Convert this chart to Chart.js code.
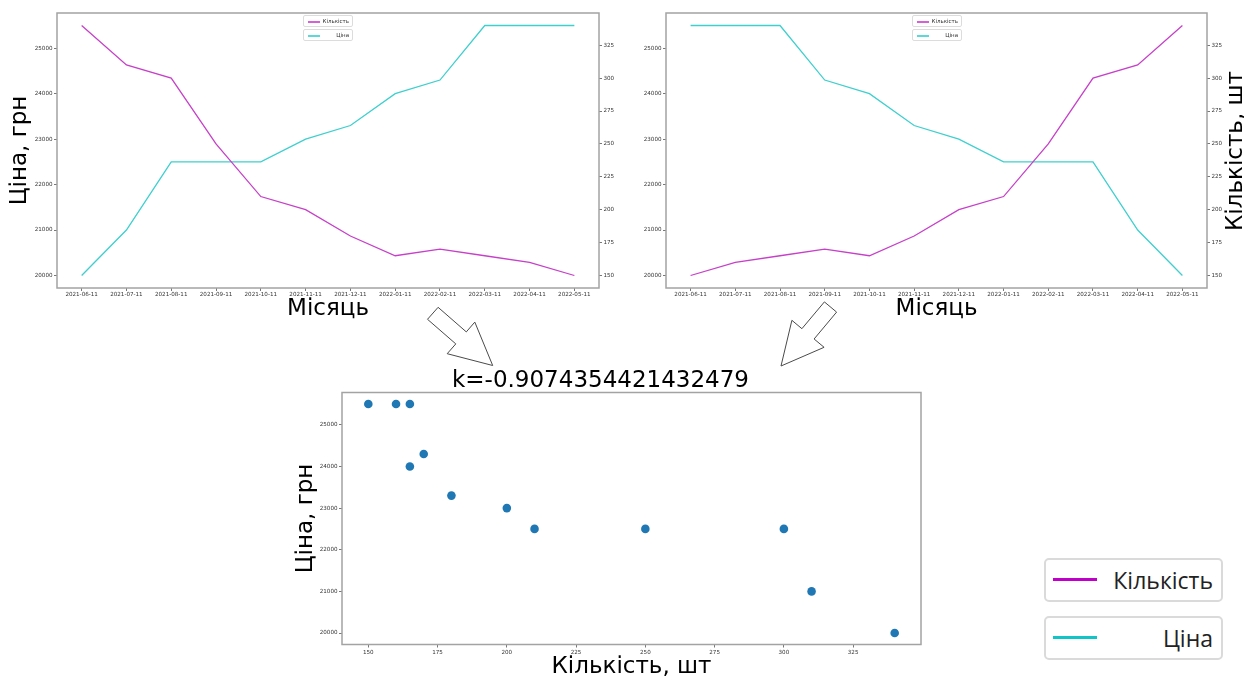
<!DOCTYPE html>
<html><head><meta charset="utf-8">
<script src="https://cdn.jsdelivr.net/npm/chart.js@4/dist/chart.umd.min.js"></script>
<style>
html,body{margin:0;padding:0;background:#fff;overflow:hidden;width:1244px;height:678px;position:relative;font-family:'DejaVu Sans',sans-serif;}
canvas{position:absolute;}
.sleg{position:absolute;background:#fff;border:1px solid #dcdcdc;border-radius:2px;box-sizing:border-box;width:50px;height:12px;}
.sleg div{position:absolute;left:4px;top:4.5px;width:12px;height:2px;}
.sleg span{position:absolute;right:3px;top:0;line-height:11px;font-size:5.5px;color:#333;}
.bleg{position:absolute;left:1044px;width:179px;height:44px;background:#fff;border:2px solid #dadada;border-radius:5px;box-sizing:border-box;}
.bleg div{position:absolute;left:7px;top:18px;width:44px;height:3px;}
.bleg span{position:absolute;right:8px;top:0;line-height:40px;font-size:23px;color:#222;font-family:'Open Sans',sans-serif;}
.mag{background-color:#d660d8;}
.cya{background-color:#5cd8d8;}
.bleg .mag{background-color:#c000c8;}
.bleg .cya{background-color:#10c4c8;}
.rtitle{position:absolute;left:1234px;top:150.5px;transform:translate(-50%,-50%) rotate(-90deg);font-size:23px;line-height:23px;white-space:nowrap;color:#000;}
svg{position:absolute;left:0;top:0;}
</style></head><body>
<canvas id="c1" width="640" height="330" style="left:0;top:0"></canvas>
<canvas id="c2" width="624" height="330" style="left:620px;top:0"></canvas>
<canvas id="c3" width="703" height="325" style="left:280px;top:360px"></canvas>
<div class="sleg" style="left:303px;top:15px"><div class="mag"></div><span>Кількість</span></div>
<div class="sleg" style="left:303px;top:29px"><div class="cya"></div><span>Ціна</span></div>
<div class="sleg" style="left:912px;top:15px"><div class="mag"></div><span>Кількість</span></div>
<div class="sleg" style="left:912px;top:29px"><div class="cya"></div><span>Ціна</span></div>
<div class="rtitle">Кількість, шт</div>
<div class="bleg" style="top:558px"><div class="mag"></div><span>Кількість</span></div>
<div class="bleg" style="top:616px"><div class="cya"></div><span>Ціна</span></div>
<svg id="arrows" width="1244" height="678"></svg>
<script>
const months = ['2021-06-11','2021-07-11','2021-08-11','2021-09-11','2021-10-11','2021-11-11','2021-12-11','2022-01-11','2022-02-11','2022-03-11','2022-04-11','2022-05-11'];
const price1 = [20000,21000,22500,22500,22500,23000,23300,24000,24300,25500,25500,25500];
const qty1   = [340,310,300,250,210,200,180,165,170,165,160,150];
const price2 = [25500,25500,25500,24300,24000,23300,23000,22500,22500,22500,21000,20000];
const qty2   = [150,160,165,170,165,180,200,210,250,300,310,340];
const priceTicks = [20000,21000,22000,23000,24000,25000];
const qtyTicks = [150,175,200,225,250,275,300,325];
const kTitle = 'k=-0.9074354421432479';

Chart.defaults.font.family = "'DejaVu Sans'";
Chart.defaults.color = '#333';
Chart.defaults.animation = false;
Chart.defaults.events = [];

const MAG = '#c640c8', CYA = '#3fcfcf';
const framePlugin = {id:'frame', afterDatasetsDraw(chart){
  const {ctx, chartArea:a} = chart; ctx.save();
  ctx.strokeStyle = '#a3a3a3'; ctx.lineWidth = 1.5;
  ctx.strokeRect(a.left, a.top, a.right-a.left, a.bottom-a.top); ctx.restore();
}};
const tickFont = {size:5.6};
const gridCfg = {drawOnChartArea:false, drawTicks:true, tickLength:3, color:'#555', lineWidth:0.8};
const setTicks = vals => axis => { axis.ticks = vals.map(v => ({value:v})); };
const fixW = w => s => { s.width = w; };
const fixH = h => s => { s.height = h; };
const plain = v => String(v);

function lineChart(id, price, qty, o){
  const idx = months.map((m,i)=>i);
  return new Chart(document.getElementById(id), {
    type:'line',
    data:{datasets:[
      {label:'Кількість', data: qty.map((v,i)=>({x:i,y:v})), yAxisID:'y1', borderColor:MAG, borderWidth:1.3, pointRadius:0, tension:0, fill:false},
      {label:'Ціна', data: price.map((v,i)=>({x:i,y:v})), yAxisID:'y', borderColor:CYA, borderWidth:1.3, pointRadius:0, tension:0, fill:false}
    ]},
    options:{
      responsive:false, devicePixelRatio:1,
      layout:{padding:{top:13,left:0,right:0,bottom:0}},
      plugins:{legend:{display:false}, tooltip:{enabled:false}},
      scales:{
        x:{type:'linear', min:-0.55, max:11.55, afterBuildTicks:setTicks(idx), afterFit:fixH(42),
           ticks:{font:tickFont, padding:0.5, maxRotation:0, minRotation:0, autoSkip:false, color:'#333', callback:v=>months[Math.round(v)]},
           grid:gridCfg, border:{display:false},
           title:{display:true, text:'Місяць', color:'#000', font:{size:23}, padding:{top:0,bottom:7}}},
        y:{position:'left', min:19725, max:25775, afterBuildTicks:setTicks(priceTicks), afterFit:fixW(o.lw),
           ticks:{font:tickFont, padding:1.5, color:'#333', callback:plain}, grid:gridCfg, border:{display:false},
           title:{display:!!o.ltitle, text:o.ltitle||'', color:'#000', font:{size:23}, padding:{top:6,bottom:0}}},
        y1:{position:'right', min:140.5, max:349.5, afterBuildTicks:setTicks(qtyTicks), afterFit:fixW(o.rw),
           ticks:{font:tickFont, padding:1.5, color:'#333', callback:plain}, grid:gridCfg, border:{display:false}}
      }
    },
    plugins:[framePlugin]
  });
}
lineChart('c1', price1, qty1, {lw:57, rw:41, ltitle:'Ціна, грн'});
lineChart('c2', price2, qty2, {lw:46, rw:37});

new Chart(document.getElementById('c3'), {
  type:'scatter',
  data:{datasets:[{data: qty2.map((q,i)=>({x:q, y:price2[i]})), backgroundColor:'#1f77b4', borderColor:'#1f77b4', pointRadius:4.3, borderWidth:0}]},
  options:{
    responsive:false, devicePixelRatio:1,
    layout:{padding:{top:0,left:0,right:62,bottom:0}},
    plugins:{legend:{display:false}, tooltip:{enabled:false},
      title:{display:true, text:kTitle, color:'#000', font:{size:23, lineHeight:1, weight:'normal'}, padding:{top:9.5,bottom:0}}},
    scales:{
      x:{type:'linear', min:140.5, max:349.5, afterBuildTicks:setTicks(qtyTicks), afterFit:fixH(40.5),
         ticks:{font:tickFont, padding:1.5, maxRotation:0, autoSkip:false, color:'#333', callback:plain}, grid:gridCfg, border:{display:false},
         title:{display:true, text:'Кількість, шт', color:'#000', font:{size:23}, padding:{top:0,bottom:4}}},
      y:{type:'linear', min:19725, max:25775, afterBuildTicks:setTicks(priceTicks), afterFit:fixW(62),
         ticks:{font:tickFont, padding:1.5, color:'#333', callback:plain}, grid:gridCfg, border:{display:false},
         title:{display:true, text:'Ціна, грн', color:'#000', font:{size:23}, padding:{top:12.6,bottom:0}}}
    }
  },
  plugins:[framePlugin]
});

// decorative block arrows
function arrowPts(tail, tip, sw, hw, hl){
  const dx = tip[0]-tail[0], dy = tip[1]-tail[1], L = Math.hypot(dx,dy);
  const ux = dx/L, uy = dy/L, px = -uy, py = ux;
  const b = [tip[0]-ux*hl, tip[1]-uy*hl];
  const p = [
    [tail[0]+px*sw/2, tail[1]+py*sw/2], [b[0]+px*sw/2, b[1]+py*sw/2], [b[0]+px*hw/2, b[1]+py*hw/2],
    tip, [b[0]-px*hw/2, b[1]-py*hw/2], [b[0]-px*sw/2, b[1]-py*sw/2], [tail[0]-px*sw/2, tail[1]-py*sw/2]
  ];
  return p.map(q=>q[0].toFixed(1)+','+q[1].toFixed(1)).join(' ');
}
const svg = document.getElementById('arrows');
[[[432.8,313.3],[492.7,365.5]], [[830.5,307],[781,366]]].forEach(([t,h])=>{
  const pg = document.createElementNS('http://www.w3.org/2000/svg','polygon');
  pg.setAttribute('points', arrowPts(t,h,16,42,42));
  pg.setAttribute('fill','#fff'); pg.setAttribute('stroke','#4a4a4a'); pg.setAttribute('stroke-width','1');
  svg.appendChild(pg);
});
</script>
</body></html>
